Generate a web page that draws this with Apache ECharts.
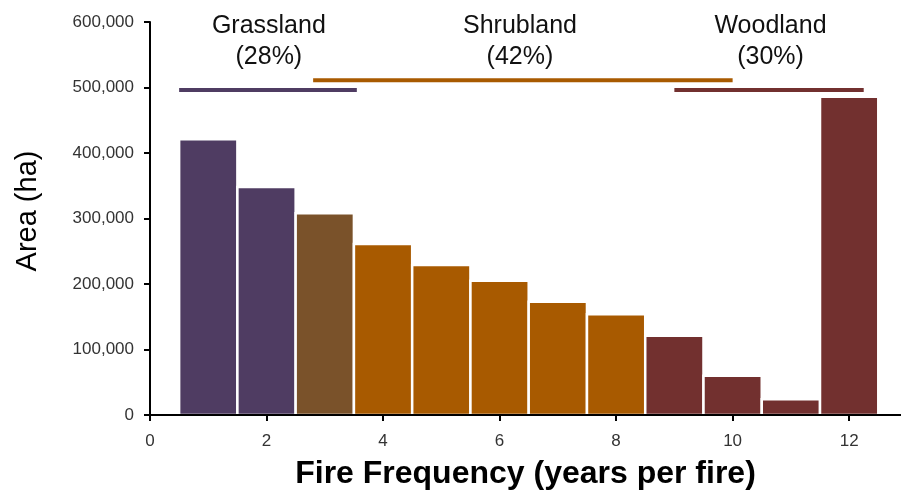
<!DOCTYPE html>
<html>
<head>
<meta charset="utf-8">
<script src="https://cdn.jsdelivr.net/npm/echarts@6/dist/echarts.min.js"></script>
<style>
html,body{margin:0;padding:0;background:#fff;}
#chart{width:901px;height:492px;}
</style>
</head>
<body>
<div id="chart"></div>
<script>
// ---- data ----
const fireFrequency = [1, 2, 3, 4, 5, 6, 7, 8, 9, 10, 11, 12];
const areaHa = [421000, 348000, 308000, 261000, 229000, 205000, 173000, 154000, 121000, 60000, 24000, 486000];
const barClass = ['Grassland', 'Grassland', 'Overlap', 'Shrubland', 'Shrubland', 'Shrubland', 'Shrubland', 'Shrubland', 'Woodland', 'Woodland', 'Woodland', 'Woodland'];

const rangeNames = ['Grassland', 'Shrubland', 'Woodland'];
const rangePercents = ['(28%)', '(42%)', '(30%)'];
const rangeStart = [0.5, 2.8, 9.0];
const rangeEnd = [3.55, 10.0, 12.25];
const rangeLevel = [496000, 511000, 496000];
const labelCenterX = [2.04, 6.35, 10.65];
const labelNameY = 594000;
const labelPctY = 546000;

const yTicks = [0, 100000, 200000, 300000, 400000, 500000, 600000];
const xTicks = [0, 2, 4, 6, 8, 10, 12];

// ---- styles ----
const FONT = 'Liberation Sans, Arial, sans-serif';
const classColor = {
  Grassland: '#4f3c62',
  Overlap: '#7a522a',
  Shrubland: '#a85a00',
  Woodland: '#72302f'
};
const rangeColor = ['#4f3c62', '#a85a00', '#72302f'];

const chart = echarts.init(document.getElementById('chart'), null, {renderer: 'canvas'});

const barData = fireFrequency.map((f, i) => [f, areaHa[i], i]);
const labelData = rangeNames.map((n, i) => [labelCenterX[i], labelNameY, labelPctY, i]);

const series = [
  {
    type: 'custom',
    name: 'area',
    data: barData,
    encode: {x: 0, y: 1},
    renderItem: function (params, api) {
      const x = api.value(0);
      const v = api.value(1);
      const idx = api.value(2);
      const p0 = api.coord([x - 0.5, v]);
      const p1 = api.coord([x + 0.5, 0]);
      return {
        type: 'rect',
        shape: {x: p0[0], y: p0[1], width: p1[0] - p0[0], height: p1[1] - p0[1]},
        style: {fill: classColor[barClass[idx]], stroke: '#ffffff', lineWidth: 2.5}
      };
    },
    z: 2
  }
];

rangeNames.forEach((n, i) => {
  series.push({
    type: 'line',
    name: n + ' range',
    data: [[rangeStart[i], rangeLevel[i]], [rangeEnd[i], rangeLevel[i]]],
    symbol: 'none',
    lineStyle: {color: rangeColor[i], width: 4},
    silent: true,
    z: 3
  });
});

series.push({
  type: 'custom',
  name: 'range labels',
  data: labelData,
  encode: {x: 0, y: 1},
  renderItem: function (params, api) {
    const i = api.value(3);
    const a = api.coord([api.value(0), api.value(1)]);
    const b = api.coord([api.value(0), api.value(2)]);
    return {
      type: 'group',
      children: [
        {type: 'text', style: {text: rangeNames[i], x: a[0], y: a[1], align: 'center', verticalAlign: 'middle', font: '25px ' + FONT, fill: '#111'}},
        {type: 'text', style: {text: rangePercents[i], x: b[0], y: b[1], align: 'center', verticalAlign: 'middle', font: '25px ' + FONT, fill: '#111'}}
      ]
    };
  },
  clip: false,
  z: 4
});

const option = {
  animation: false,
  backgroundColor: '#ffffff',
  grid: {left: 150, right: 0, top: 22, bottom: 77, containLabel: false, outerBoundsMode: 'none'},
  xAxis: {
    type: 'value',
    min: xTicks[0],
    max: 12.89,
    interval: 2,
    z: 10,
    axisLine: {show: true, lineStyle: {color: '#000', width: 2}},
    axisTick: {show: true, length: 6, lineStyle: {color: '#000', width: 2}},
    axisLabel: {showMaxLabel: false, color: '#333', fontSize: 17, fontFamily: FONT, margin: 18,
      formatter: v => (xTicks.indexOf(v) >= 0 ? String(v) : '')},
    splitLine: {show: false},
    name: 'Fire Frequency (years per fire)',
    nameLocation: 'middle',
    nameGap: 43,
    nameTextStyle: {fontSize: 32, fontWeight: 'bold', color: '#000', fontFamily: FONT}
  },
  yAxis: {
    type: 'value',
    min: yTicks[0],
    max: yTicks[yTicks.length - 1],
    interval: 100000,
    z: 10,
    axisLine: {show: true, lineStyle: {color: '#000', width: 2}},
    axisTick: {show: true, length: 6, lineStyle: {color: '#000', width: 2}},
    axisLabel: {color: '#333', fontSize: 17, fontFamily: FONT, margin: 16},
    splitLine: {show: false}
  },
  graphic: [
    {type: 'text', x: 28, y: 211, rotation: Math.PI / 2,
      style: {text: 'Area (ha)', align: 'center', verticalAlign: 'middle', font: '29px ' + FONT, fill: '#000'}}
  ],
  series: series
};

chart.setOption(option);
</script>
</body>
</html>
